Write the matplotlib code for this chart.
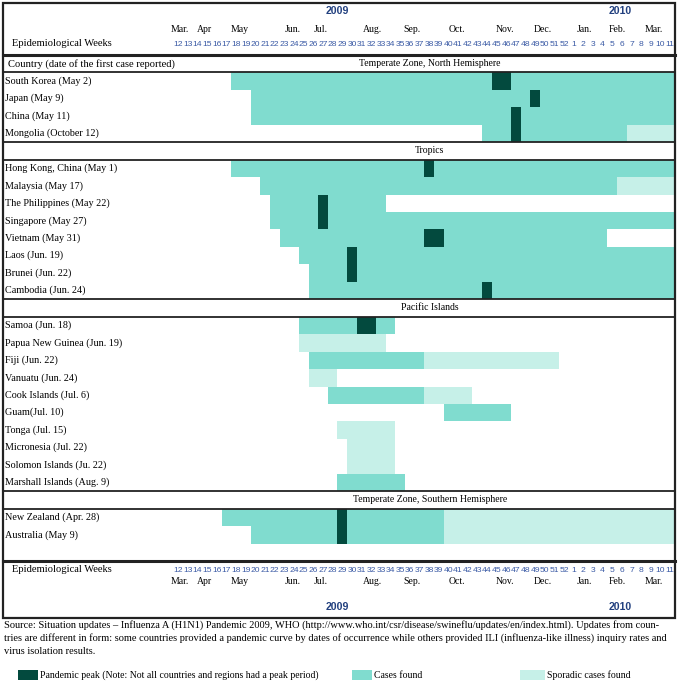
import matplotlib
matplotlib.use("Agg")
import matplotlib.pyplot as plt
from matplotlib.patches import Rectangle
from matplotlib.transforms import blended_transform_factory

# weeks: 2009 week w -> w, 2010 week k -> 52 + k
week_labels = [str(w) for w in range(12, 53)] + [str(k) for k in range(1, 12)]
week_pos = list(range(12, 64))
month_names = ["Mar.", "Apr", "May", "Jun.", "Jul.", "Aug.", "Sep.", "Oct.", "Nov.", "Dec.", "Jan.", "Feb.", "Mar."]
month_pos = [12.2, 14.7, 18.4, 23.9, 26.8, 32.1, 36.2, 40.9, 45.9, 49.8, 54.1, 57.5, 61.3]
year_names = ["2009", "2010"]
year_pos = [28.5, 57.8]

north_countries = ["South Korea (May 2)", "Japan (May 9)", "China (May 11)", "Mongolia (October 12)"]
north_cases = [(18, 63), (20, 63), (20, 63), (44, 58)]
north_sporadic = [None, None, None, (59, 63)]
north_peak = [(45, 46), (49, 49), (47, 47), (47, 47)]

tropics_countries = ["Hong Kong, China (May 1)", "Malaysia (May 17)", "The Philippines (May 22)",
                     "Singapore (May 27)", "Vietnam (May 31)", "Laos (Jun. 19)",
                     "Brunei (Jun. 22)", "Cambodia (Jun. 24)"]
tropics_cases = [(18, 63), (21, 57), (22, 33), (22, 63), (23, 56), (25, 63), (26, 63), (26, 63)]
tropics_sporadic = [None, (58, 63), None, None, None, None, None, None]
tropics_peak = [(38, 38), None, (27, 27), (27, 27), (38, 39), (30, 30), (30, 30), (44, 44)]

pacific_countries = ["Samoa (Jun. 18)", "Papua New Guinea (Jun. 19)", "Fiji (Jun. 22)",
                     "Vanuatu (Jun. 24)", "Cook Islands (Jul. 6)", "Guam(Jul. 10)",
                     "Tonga (Jul. 15)", "Micronesia (Jul. 22)", "Solomon Islands (Ju. 22)",
                     "Marshall Islands (Aug. 9)"]
pacific_cases = [(25, 34), None, (26, 37), None, (28, 37), (40, 46), None, None, None, (29, 35)]
pacific_sporadic = [None, (25, 33), (38, 51), (26, 28), (38, 42), None, (29, 34), (30, 34), (30, 34), None]
pacific_peak = [(31, 32), None, None, None, None, None, None, None, None, None]

south_countries = ["New Zealand (Apr. 28)", "Australia (May 9)"]
south_cases = [(17, 39), (20, 39)]
south_sporadic = [(40, 63), (40, 63)]
south_peak = [(29, 29), (29, 29)]

groups = [
    ("Temperate Zone, North Hemisphere", north_countries, north_cases, north_sporadic, north_peak),
    ("Tropics", tropics_countries, tropics_cases, tropics_sporadic, tropics_peak),
    ("Pacific Islands", pacific_countries, pacific_cases, pacific_sporadic, pacific_peak),
    ("Temperate Zone, Southern Hemisphere", south_countries, south_cases, south_sporadic, south_peak),
]

c_cases = "#80dccf"
c_spor = "#c6f0e8"
c_peak = "#034a3e"
c_blue = "#3a5aa5"
c_year = "#22407f"
serif = ["Liberation Serif", "DejaVu Serif"]
sans = ["Liberation Sans", "DejaVu Sans"]

W, H = 678, 686
fig = plt.figure(figsize=(W / 100, H / 100), dpi=100)


def fx(x):
    return x / W


def fy(y):
    return 1 - y / H


top, bot = 55, 561
left, right = 173.5, 675
ax = fig.add_axes([fx(left), fy(bot), fx(right) - fx(left), fy(top) - fy(bot)])
ax.set_xlim(11.5, 63.5)
ax.set_ylim(29, 0)
ax.axis("off")

tr_yfig = blended_transform_factory(fig.transFigure, ax.transData)
tr_xfig = blended_transform_factory(ax.transData, fig.transFigure)


def bars(span, row, color):
    if span is None:
        return
    ax.barh(row + 0.5, span[1] - span[0] + 1, left=span[0] - 0.5, height=1.0, color=color, linewidth=0)


slot = 0
lines = [0]
ax.text(fx(8), 0.5, "Country (date of the first case reported)", transform=tr_yfig,
        family=serif, fontsize=7.6, va="center", ha="left")
for i, (title, names, cases, spor, peak) in enumerate(groups):
    if i > 0:
        lines.append(slot)
    ax.text(fx(430), slot + 0.5, title, transform=tr_yfig, family=serif, fontsize=7,
            ha="center", va="center")
    slot += 1
    lines.append(slot)
    for j, name in enumerate(names):
        bars(cases[j], slot, c_cases)
        bars(spor[j], slot, c_spor)
        bars(peak[j], slot, c_peak)
        ax.text(fx(5), slot + 0.5, name, transform=tr_yfig, family=serif, fontsize=7.3,
                va="center", ha="left")
        slot += 1
slot += 1
lines.append(slot)

for y in lines:
    lw = 2.2 if y in (0, slot) else 1.3
    ax.plot([fx(3), fx(675)], [y, y], transform=tr_yfig, color="#222222", lw=lw, clip_on=False)

fig.add_artist(Rectangle((fx(3), fy(618)), fx(675) - fx(3), fy(3) - fy(618),
                         transform=fig.transFigure, fill=False, lw=1.6, edgecolor="#222222"))

# week headers, top and bottom
for yy_num, yy_mon, yy_year in [(44, 30, 11), (570, 581, 607)]:
    for p, lab in zip(week_pos, week_labels):
        ax.text(p, fy(yy_num), lab, transform=tr_xfig, family=sans, fontsize=6.1,
                color=c_blue, ha="center", va="center")
    for p, lab in zip(month_pos, month_names):
        ax.text(p, fy(yy_mon), lab, transform=tr_xfig, family=serif, fontsize=7,
                ha="center", va="center")
    for p, lab in zip(year_pos, year_names):
        ax.text(p, fy(yy_year), lab, transform=tr_xfig, family=sans, fontsize=7.6,
                color=c_year, weight="bold", ha="center", va="center")
    fig.text(fx(12), fy(yy_num), "Epidemiological Weeks", family=serif, fontsize=7.6,
             ha="left", va="center")

src = [
    "Source: Situation updates \u2013 Influenza A (H1N1) Pandemic 2009, WHO (http://www.who.int/csr/disease/swineflu/updates/en/index.html). Updates from coun-",
    "tries are different in form: some countries provided a pandemic curve by dates of occurrence while others provided ILI (influenza-like illness) inquiry rates and",
    "virus isolation results.",
]
for k, line in enumerate(src):
    fig.text(fx(4), fy(625 + 13.5 * k), line, family=serif, fontsize=7.45, ha="left", va="center")

legend_items = [
    (18, 38, c_peak, "Pandemic peak (Note: Not all countries and regions had a peak period)"),
    (352, 372, c_cases, "Cases found"),
    (520, 545, c_spor, "Sporadic cases found"),
]
for x0, x1, col, lab in legend_items:
    fig.add_artist(Rectangle((fx(x0), fy(680)), fx(x1) - fx(x0), fy(670) - fy(680),
                             transform=fig.transFigure, color=col, lw=0))
    fig.text(fx(x1 + 2), fy(675), lab, family=serif, fontsize=7.05, ha="left", va="center")

fig.savefig("out.png", dpi=100)
